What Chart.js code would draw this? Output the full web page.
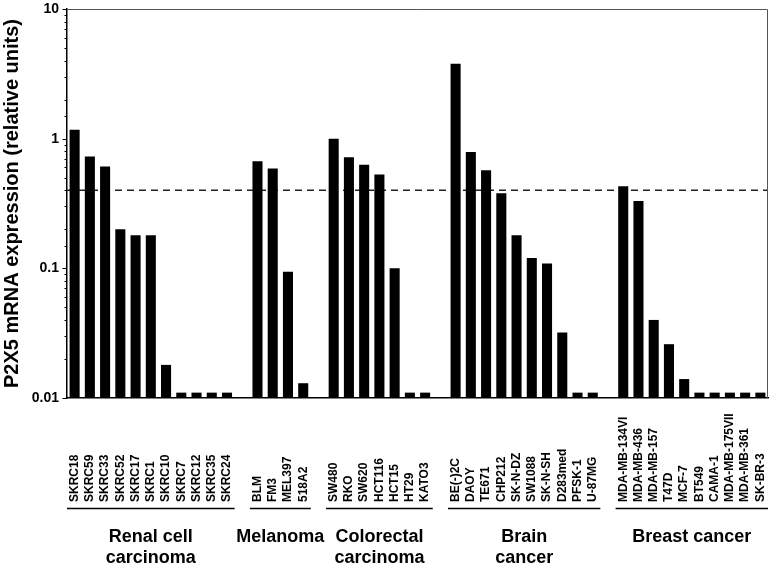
<!DOCTYPE html>
<html>
<head>
<meta charset="utf-8">
<script src="https://cdn.jsdelivr.net/npm/chart.js@4.4.1/dist/chart.umd.min.js"></script>
<style>
  html, body { margin: 0; padding: 0; background: #fff; }
  #wrap { width: 771px; height: 568px; position: relative; }
</style>
</head>
<body>
<div id="wrap"><canvas id="grafico"></canvas></div>
<script>
// Dados por grupo de linhagens celulares
const renalLabels = ['SKRC18', 'SKRC59', 'SKRC33', 'SKRC52', 'SKRC17', 'SKRC1', 'SKRC10', 'SKRC7', 'SKRC12', 'SKRC35', 'SKRC24'];
const renalValues = [1.17, 0.73, 0.61, 0.20, 0.18, 0.18, 0.018, 0.011, 0.011, 0.011, 0.011];

const melanomaLabels = ['BLM', 'FM3', 'MEL397', '518A2'];
const melanomaValues = [0.67, 0.59, 0.094, 0.013];

const colorectalLabels = ['SW480', 'RKO', 'SW620', 'HCT116', 'HCT15', 'HT29', 'KATO3'];
const colorectalValues = [1.0, 0.72, 0.63, 0.53, 0.10, 0.011, 0.011];

const brainLabels = ['BE(-)2C', 'DAOY', 'TE671', 'CHP212', 'SK-N-DZ', 'SW1088', 'SK-N-SH', 'D283med', 'PFSK-1', 'U-87MG'];
const brainValues = [3.78, 0.79, 0.57, 0.38, 0.18, 0.12, 0.109, 0.032, 0.011, 0.011];

const breastLabels = ['MDA-MB-134VI', 'MDA-MB-436', 'MDA-MB-157', 'T47D', 'MCF-7', 'BT549', 'CAMA-1', 'MDA-MB-175VII', 'MDA-MB-361', 'SK-BR-3'];
const breastValues = [0.43, 0.33, 0.040, 0.026, 0.014, 0.011, 0.011, 0.011, 0.011, 0.011];

const groupNames = [['Renal cell', 'carcinoma'], ['Melanoma'], ['Colorectal', 'carcinoma'], ['Brain', 'cancer'], ['Breast cancer']];
const groupLabels = [renalLabels, melanomaLabels, colorectalLabels, brainLabels, breastLabels];
const groupValues = [renalValues, melanomaValues, colorectalValues, brainValues, breastValues];

const threshold = 0.4; // linha tracejada
const yTickValues = [0.01, 0.1, 1, 10];
const yTickLabels = ['0.01', '0.1', '1', '10'];

const FONTE = '"Liberation Sans", Arial, Helvetica, sans-serif';

// monta as categorias com um espaço vazio entre os grupos
const labels = [];
const values = [];
const groupRanges = [];
groupLabels.forEach((g, gi) => {
    if (gi > 0) { labels.push(''); values.push(null); }
    const start = labels.length;
    g.forEach((l, i) => { labels.push(l); values.push(groupValues[gi][i]); });
    groupRanges.push([start, labels.length - 1]);
});

const extras = {
    id: 'extras',
    beforeDatasetsDraw(chart) {
        const { ctx, chartArea: a, scales: { y } } = chart;
        // linha de corte
        const py = y.getPixelForValue(threshold);
        ctx.save();
        ctx.strokeStyle = '#222';
        ctx.lineWidth = 1.4;
        ctx.setLineDash([7, 5]);
        ctx.beginPath();
        ctx.moveTo(a.left, py);
        ctx.lineTo(a.right, py);
        ctx.stroke();
        ctx.restore();
    },
    afterDraw(chart) {
        const { ctx, chartArea: a, scales: { x, y } } = chart;
        ctx.save();
        // borda superior e direita
        ctx.strokeStyle = '#555';
        ctx.lineWidth = 1;
        ctx.beginPath();
        ctx.moveTo(a.left, a.top + 0.5);
        ctx.lineTo(a.right - 0.5, a.top + 0.5);
        ctx.lineTo(a.right - 0.5, a.bottom);
        ctx.stroke();

        // marcas do eixo y (maiores nas potencias de 10)
        ctx.strokeStyle = '#000';
        ctx.lineWidth = 1;
        y.ticks.forEach(t => {
            const major = yTickValues.some(v => Math.abs(v - t.value) / v < 1e-6);
            const p = Math.round(y.getPixelForValue(t.value)) + 0.5;
            ctx.beginPath();
            ctx.moveTo(a.left, p);
            ctx.lineTo(a.left - (major ? 4.5 : 2.5), p);
            ctx.stroke();
        });

        // rótulos das linhagens (rotacionados, alinhados embaixo)
        ctx.fillStyle = '#000';
        ctx.font = 'bold 12px ' + FONTE;
        ctx.textAlign = 'left';
        ctx.textBaseline = 'middle';
        labels.forEach((l, i) => {
            if (!l) return;
            const px = x.getPixelForValue(i);
            ctx.save();
            ctx.translate(px, 502);
            ctx.rotate(-Math.PI / 2);
            ctx.fillText(l, 0, 0);
            ctx.restore();
        });

        // linhas e nomes dos grupos
        const half = (x.getPixelForValue(1) - x.getPixelForValue(0)) / 2;
        ctx.lineWidth = 1.5;
        ctx.font = 'bold 18px ' + FONTE;
        ctx.textAlign = 'center';
        ctx.textBaseline = 'alphabetic';
        groupRanges.forEach(([s, e], gi) => {
            const x0 = x.getPixelForValue(s) - half;
            const x1 = x.getPixelForValue(e) + half;
            ctx.beginPath();
            ctx.moveTo(x0, 508.5);
            ctx.lineTo(x1, 508.5);
            ctx.stroke();
            const cx = (x0 + x1) / 2;
            groupNames[gi].forEach((txt, li) => {
                ctx.fillText(txt, cx, 542 + li * 21);
            });
        });
        ctx.restore();
    }
};

function plotarGrafico() {
    const ctx = document.getElementById('grafico').getContext('2d');
    new Chart(ctx, {
        type: 'bar',
        data: {
            labels: labels,
            datasets: [{
                data: values,
                backgroundColor: '#000',
                borderWidth: 0,
                barPercentage: 0.66,
                categoryPercentage: 1
            }]
        },
        options: {
            responsive: true,
            maintainAspectRatio: false,
            animation: false,
            layout: { padding: { top: 9, right: 3, left: 0, bottom: 0 } },
            plugins: {
                legend: { display: false },
                tooltip: { enabled: false }
            },
            scales: {
                x: {
                    type: 'category',
                    offset: true,
                    grid: { display: false },
                    border: { display: true, color: '#000', width: 1.5 },
                    ticks: { display: false },
                    afterFit(scale) { scale.height = 170; }
                },
                y: {
                    type: 'logarithmic',
                    min: 0.01,
                    max: 10,
                    grid: { display: false, drawTicks: false },
                    border: { display: true, color: '#000', width: 1.5 },
                    ticks: {
                        autoSkip: false,
                        padding: 8,
                        color: '#000',
                        font: { family: FONTE, size: 14, weight: 'bold' },
                        callback(value) {
                            const i = yTickValues.findIndex(v => Math.abs(v - value) / v < 1e-6);
                            return i >= 0 ? yTickLabels[i] : '';
                        }
                    },
                    title: {
                        display: true,
                        text: 'P2X5 mRNA expression (relative units)',
                        color: '#000',
                        font: { family: FONTE, size: 20, weight: 'bold' },
                        padding: { top: 0, bottom: 0 }
                    },
                    afterFit(scale) {
                        scale.width = 67;
                        scale.paddingTop = 0;
                        scale.paddingBottom = 0;
                    }
                }
            }
        },
        plugins: [extras]
    });
}

window.onload = function () {
    plotarGrafico();
};
</script>
</body>
</html>
